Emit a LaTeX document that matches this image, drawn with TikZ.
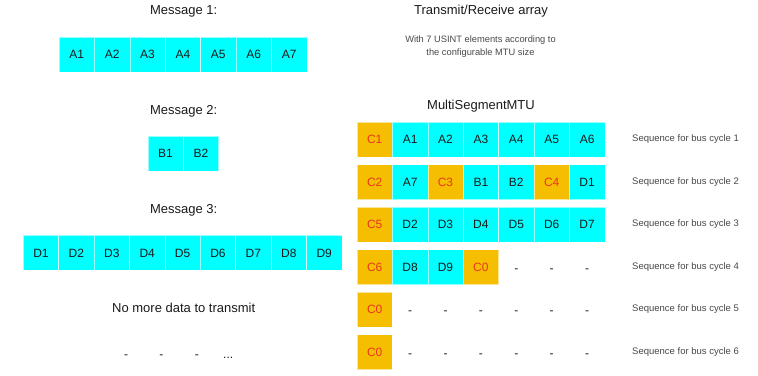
\documentclass[tikz,border=0pt]{standalone}
\usepackage{fontspec}
\setmainfont{Liberation Sans}
\usepackage{xcolor}
\usepackage{tikz}
\usetikzlibrary{positioning}

\definecolor{cellcyan}{HTML}{00FFFF}
\definecolor{ctrlorange}{HTML}{F5BE00}
\definecolor{ctrlred}{HTML}{E8381E}
\definecolor{txtgrey}{HTML}{1A1A1A}

\tikzset{
  cell/.style={rectangle, fill=cellcyan, draw=white, draw opacity=0.6, line width=0.5pt,
               minimum width=35.4pt, minimum height=35pt, inner sep=0pt,
               text height=8.6pt, text depth=0pt,
               text=txtgrey, font=\fontsize{12}{14}\selectfont},
  ctrl/.style={cell, fill=ctrlorange, text=ctrlred},
  empty/.style={cell, fill=none, draw=none, text height=10pt},
  title/.style={anchor=base, inner sep=0pt, text=txtgrey, font=\fontsize{13}{15}\selectfont},
  note/.style={anchor=base, inner sep=0pt, text=txtgrey!80, font=\fontsize{9.3}{11}\selectfont},
  seqlabel/.style={anchor=west, inner sep=0pt, text=txtgrey!80, font=\fontsize{9.5}{11}\selectfont}
}

\begin{document}
\begin{tikzpicture}[x=1pt, y=-1pt, node distance=35.4pt]
    \useasboundingbox (0,0) rectangle (758,375);

    % Messages a transmettre
    \node (msgA) [title] at (183.7,14.3) {Message 1:};
    \node (a1) [cell] at (76.7,54.5) {A1};
    \node (a2) [cell, right of=a1] {A2};
    \node (a3) [cell, right of=a2] {A3};
    \node (a4) [cell, right of=a3] {A4};
    \node (a5) [cell, right of=a4] {A5};
    \node (a6) [cell, right of=a5] {A6};
    \node (a7) [cell, right of=a6] {A7};

    \node (msgB) [title] at (183.7,114.3) {Message 2:};
    \node (b1) [cell] at (165.5,153.5) {B1};
    \node (b2) [cell, right of=b1] {B2};

    \node (msgD) [title] at (183.7,213.3) {Message 3:};
    \node (d1) [cell] at (41,252.7) {D1};
    \node (d2) [cell, right of=d1] {D2};
    \node (d3) [cell, right of=d2] {D3};
    \node (d4) [cell, right of=d3] {D4};
    \node (d5) [cell, right of=d4] {D5};
    \node (d6) [cell, right of=d5] {D6};
    \node (d7) [cell, right of=d6] {D7};
    \node (d8) [cell, right of=d7] {D8};
    \node (d9) [cell, right of=d8] {D9};

    \node (nomore) [title] at (183.7,312) {No more data to transmit};
    \node (n1) [empty] at (126,353) {-};
    \node (n2) [empty, right of=n1] {-};
    \node (n3) [empty, right of=n2] {-};
    \node (n4) [empty, right of=n3, xshift=-4pt] {...};

    % Tableau emission / reception
    \node (trx)   [title] at (481,14.5) {Transmit/Receive array};
    \node (trxA)  [note] at (480.5,42.5) {With 7 USINT elements according to};
    \node (trxB)  [note] at (480.5,55) {the configurable MTU size};
    \node (mtu)   [title] at (481,109.3) {MultiSegmentMTU};

    % Cycle 1
    \node (r1a) [ctrl] at (374.7,139.5) {C1};
    \node (r1b) [cell, right of=r1a] {A1};
    \node (r1c) [cell, right of=r1b] {A2};
    \node (r1d) [cell, right of=r1c] {A3};
    \node (r1e) [cell, right of=r1d] {A4};
    \node (r1f) [cell, right of=r1e] {A5};
    \node (r1g) [cell, right of=r1f] {A6};
    \node (s1)  [seqlabel] at (632,139.5) {Sequence for bus cycle 1};

    % Cycle 2
    \node (r2a) [ctrl] at (374.7,182) {C2};
    \node (r2b) [cell, right of=r2a] {A7};
    \node (r2c) [ctrl, right of=r2b] {C3};
    \node (r2d) [cell, right of=r2c] {B1};
    \node (r2e) [cell, right of=r2d] {B2};
    \node (r2f) [ctrl, right of=r2e] {C4};
    \node (r2g) [cell, right of=r2f] {D1};
    \node (s2)  [seqlabel] at (632,182) {Sequence for bus cycle 2};

    % Cycle 3
    \node (r3a) [ctrl] at (374.7,224.5) {C5};
    \node (r3b) [cell, right of=r3a] {D2};
    \node (r3c) [cell, right of=r3b] {D3};
    \node (r3d) [cell, right of=r3c] {D4};
    \node (r3e) [cell, right of=r3d] {D5};
    \node (r3f) [cell, right of=r3e] {D6};
    \node (r3g) [cell, right of=r3f] {D7};
    \node (s3)  [seqlabel] at (632,224.5) {Sequence for bus cycle 3};

    % Cycle 4
    \node (r4a) [ctrl] at (374.7,267) {C6};
    \node (r4b) [cell, right of=r4a] {D8};
    \node (r4c) [cell, right of=r4b] {D9};
    \node (r4d) [ctrl, right of=r4c] {C0};
    \node (r4e) [empty, right of=r4d] {-};
    \node (r4f) [empty, right of=r4e] {-};
    \node (r4g) [empty, right of=r4f] {-};
    \node (s4)  [seqlabel] at (632,267) {Sequence for bus cycle 4};

    % Cycle 5
    \node (r5a) [ctrl] at (374.7,309.5) {C0};
    \node (r5b) [empty, right of=r5a] {-};
    \node (r5c) [empty, right of=r5b] {-};
    \node (r5d) [empty, right of=r5c] {-};
    \node (r5e) [empty, right of=r5d] {-};
    \node (r5f) [empty, right of=r5e] {-};
    \node (r5g) [empty, right of=r5f] {-};
    \node (s5)  [seqlabel] at (632,309.5) {Sequence for bus cycle 5};

    % Cycle 6
    \node (r6a) [ctrl] at (374.7,352) {C0};
    \node (r6b) [empty, right of=r6a] {-};
    \node (r6c) [empty, right of=r6b] {-};
    \node (r6d) [empty, right of=r6c] {-};
    \node (r6e) [empty, right of=r6d] {-};
    \node (r6f) [empty, right of=r6e] {-};
    \node (r6g) [empty, right of=r6f] {-};
    \node (s6)  [seqlabel] at (632,352) {Sequence for bus cycle 6};
  \end{tikzpicture}
\end{document}
